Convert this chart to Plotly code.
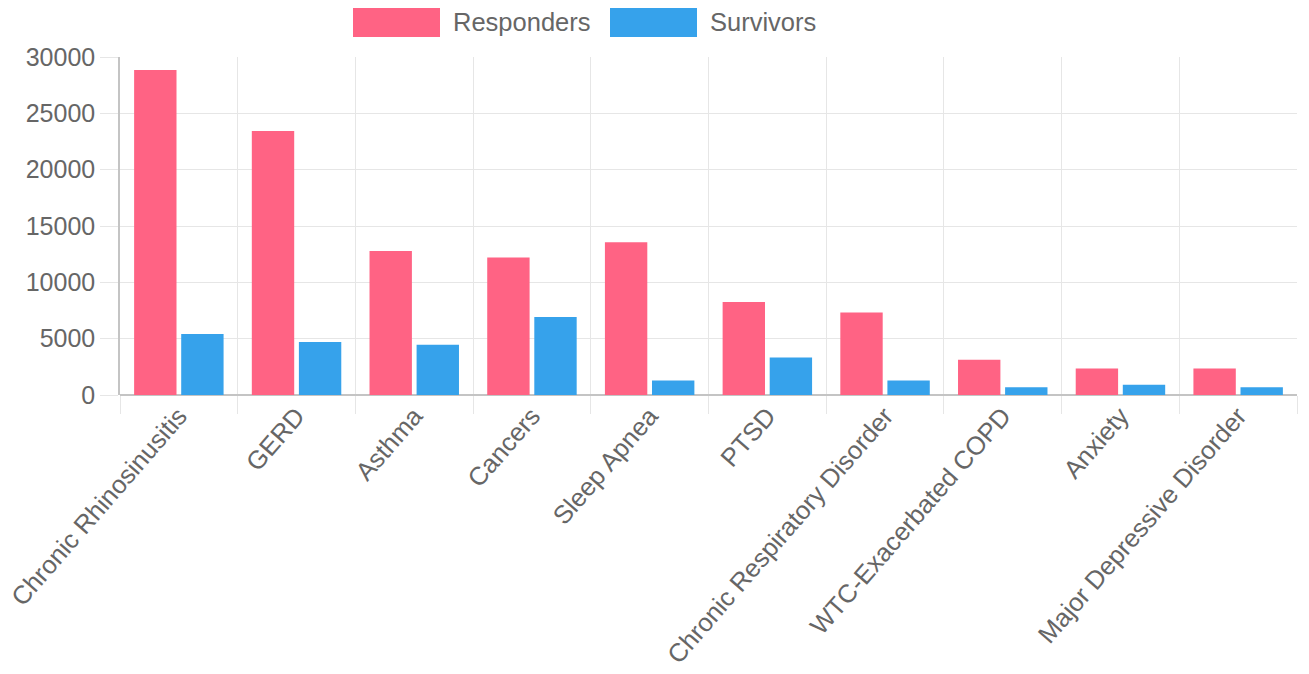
import plotly.graph_objects as go

categories = ["Chronic Rhinosinusitis", "GERD", "Asthma", "Cancers", "Sleep Apnea",
              "PTSD", "Chronic Respiratory Disorder", "WTC-Exacerbated COPD",
              "Anxiety", "Major Depressive Disorder"]
responders = [28850, 23430, 12780, 12200, 13550, 8250, 7320, 3130, 2350, 2350]
survivors = [5410, 4700, 4460, 6930, 1280, 3320, 1280, 690, 920, 690]
y_ticks = [0, 5000, 10000, 15000, 20000, 25000, 30000]

PINK = "#FF6384"
BLUE = "#36A2EB"
TXT = "#666666"
FONT = "Liberation Sans, Arial, sans-serif"

W, H = 1309, 674
L, R, T, B = 120, 12, 57, 279
pw, ph = W - L - R, H - T - B

def px(x):
    return (x - L) / pw

def py(y):
    return (H - B - y) / ph

fig = go.Figure()
fig.add_trace(go.Bar(name="Responders", x=categories, y=responders,
                     marker=dict(color=PINK, line=dict(width=0))))
fig.add_trace(go.Bar(name="Survivors", x=categories, y=survivors,
                     marker=dict(color=BLUE, line=dict(width=0))))

shapes = [
    dict(type="rect", xref="paper", yref="paper", x0=px(353), x1=px(440), y0=py(37), y1=py(8),
         fillcolor=PINK, line=dict(width=0)),
    dict(type="rect", xref="paper", yref="paper", x0=px(610), x1=px(697), y0=py(37), y1=py(8),
         fillcolor=BLUE, line=dict(width=0)),
]
annotations = [
    dict(text="Responders", xref="paper", yref="paper", x=px(451), y=py(22),
         xanchor="left", yanchor="middle", showarrow=False, font=dict(size=25.5, color=TXT, family=FONT)),
    dict(text="Survivors", xref="paper", yref="paper", x=px(708), y=py(22),
         xanchor="left", yanchor="middle", showarrow=False, font=dict(size=25.5, color=TXT, family=FONT)),
]

fig.update_layout(
    width=W, height=H,
    margin=dict(l=L, r=R, t=T, b=B, autoexpand=False),
    paper_bgcolor="white", plot_bgcolor="white",
    barmode="group", bargap=0.2, bargroupgap=0.1,
    showlegend=False,
    font=dict(family=FONT, size=25, color=TXT),
    shapes=shapes, annotations=annotations,
    xaxis=dict(
        tickson="boundaries", showgrid=True, gridcolor="#e6e6e6", gridwidth=1,
        ticks="outside", ticklen=18, tickcolor="#e6e6e6",
        tickangle=-49, tickfont=dict(size=25.5, color=TXT, family=FONT),
        showline=False, automargin=False,
    ),
    yaxis=dict(
        range=[0, 30000], tickvals=y_ticks, ticktext=[str(v) for v in y_ticks],
        showgrid=True, gridcolor="#e6e6e6", gridwidth=1,
        ticks="outside", ticklen=18, tickcolor="#e6e6e6",
        zeroline=True, zerolinecolor="#c4c4c4", zerolinewidth=1.5,
        showline=True, linecolor="#c4c4c4", linewidth=1.5,
        tickfont=dict(size=25, color=TXT, family=FONT), ticklabelstandoff=0,
        automargin=False,
    ),
)

fig.write_html("out.html")
